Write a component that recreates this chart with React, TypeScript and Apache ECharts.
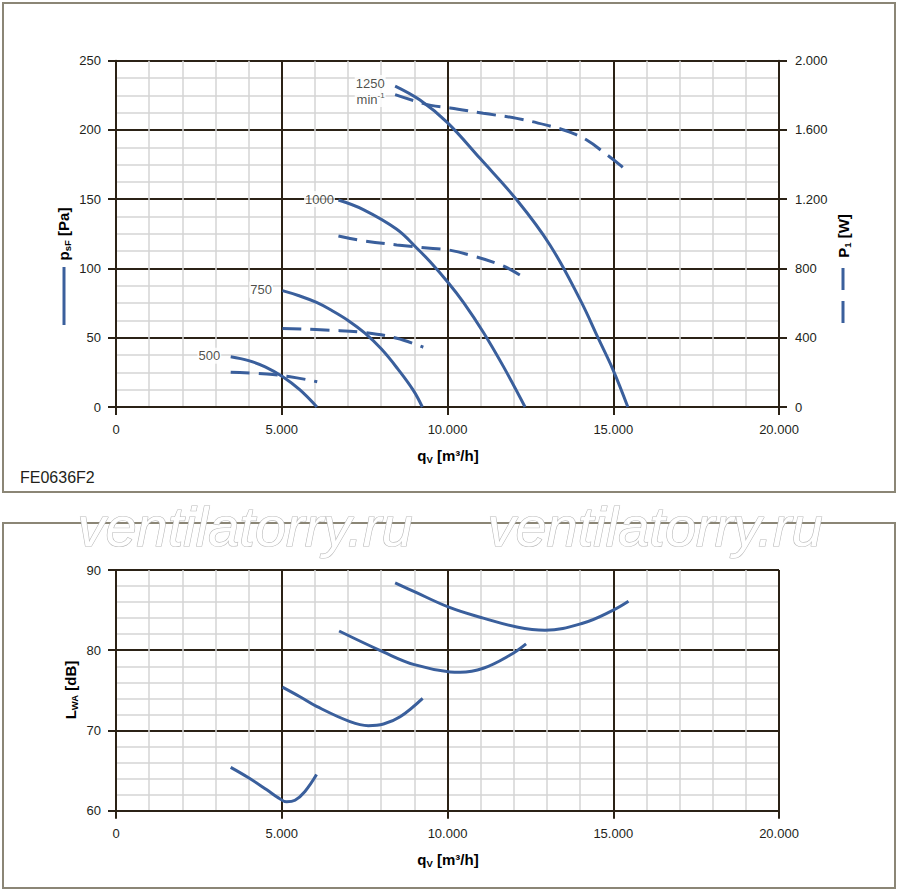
import React, { useEffect, useRef } from "react";
import * as echarts from "echarts";

// fan curves: [qV m3/h, value]
const speeds = ["1250", "1000", "750", "500"];

const pressure1250 = [[8420, 231.7], [9170, 221.6], [9990, 205.5], [10980, 179.5], [12090, 149.5], [13090, 117], [14000, 77.5], [14550, 49.5], [15000, 26.5], [15440, 0]];
const pressure1000 = [[6710, 149.4], [7460, 142.5], [8470, 128.3], [9070, 114.8], [9470, 105], [10030, 89.5], [10480, 75.5], [11080, 54], [11680, 29.5], [12340, 0]];
const pressure750 = [[5020, 84], [5500, 80.5], [6050, 75.5], [6500, 69.8], [7000, 62.5], [7500, 53.5], [8000, 42], [8500, 27.5], [8970, 12], [9240, 0]];
const pressure500 = [[3460, 36.3], [4000, 33.5], [4500, 29], [5020, 22], [5550, 12.3], [6060, 0]];

const power1250 = [[8420, 1804], [9000, 1768], [9500, 1742], [10080, 1727], [11080, 1696], [12090, 1667], [13090, 1623], [13600, 1594], [14200, 1542], [14750, 1465], [15200, 1398], [15460, 1353]];
const power1000 = [[6710, 988], [7460, 960], [8470, 936], [9470, 917], [10030, 907], [10780, 872], [11480, 830], [11890, 795], [12390, 737]];
const power750 = [[5020, 454], [6500, 443], [7500, 430], [8470, 397], [9270, 345]];
const power500 = [[3460, 200], [4550, 190], [5250, 175], [6070, 146]];

const sound1250 = [[8420, 88.4], [9000, 87.3], [10080, 85.3], [11080, 84.0], [12090, 82.9], [12940, 82.5], [14100, 83.4], [15000, 85.0], [15460, 86.1]];
const sound1000 = [[6730, 82.4], [8060, 79.8], [9000, 78.2], [10080, 77.3], [10380, 77.25], [11080, 77.75], [11890, 79.4], [12370, 80.8]];
const sound750 = [[5020, 75.4], [5550, 74.2], [6050, 73.0], [7060, 71.1], [7610, 70.6], [8070, 70.8], [8570, 71.7], [9250, 74.0]];
const sound500 = [[3460, 65.4], [4000, 64.1], [4550, 62.6], [4900, 61.6], [5150, 61.1], [5400, 61.3], [5700, 62.4], [6050, 64.5]];

const pressureCurves = [pressure1250, pressure1000, pressure750, pressure500];
const powerCurves = [power1250, power1000, power750, power500];
const soundCurves = [sound1250, sound1000, sound750, sound500];

const BLUE = "#3a5f9c";
const DARK = "#2b2216";
const MINOR = "#d5d5d5";
const TXT = "#231f1a";
const FONT = "'Liberation Sans', Arial, sans-serif";

const dotted = (v: number) => String(v).replace(/\B(?=(\d{3})+(?!\d))/g, ".");

const xAxisFor = (gridIndex: number) => ({
  type: "value",
  gridIndex,
  min: 0,
  max: 20000,
  interval: 5000,
  axisLine: { show: true, onZero: false, lineStyle: { color: DARK, width: 2 } },
  axisTick: { show: true, length: 8, lineStyle: { color: DARK, width: 2 } },
  axisLabel: { margin: 16, color: TXT, fontSize: 13, fontFamily: FONT, formatter: dotted },
  splitLine: { show: true, lineStyle: { color: DARK, width: 2 } },
  minorTick: { show: false, splitNumber: 5 },
  minorSplitLine: { show: true, lineStyle: { color: MINOR, width: 1.5 } },
});

const line = (data: number[][], xi: number, yi: number, dashed: boolean) => ({
  type: "line",
  xAxisIndex: xi,
  yAxisIndex: yi,
  data,
  smooth: 0.4,
  showSymbol: false,
  symbol: "none",
  silent: true,
  lineStyle: { color: BLUE, width: 3, type: dashed ? [19, 9] : "solid", cap: "butt" },
  z: 5,
});

const App = () => {
  const chartRef = useRef<HTMLDivElement>(null);

  useEffect(() => {
    if (!chartRef.current) return;
    const chart = echarts.init(chartRef.current, null, { renderer: "svg" });

    const labelRich = {
      a: { fontSize: 13, lineHeight: 16, color: TXT, fontFamily: FONT },
      s: { fontSize: 8, lineHeight: 16, verticalAlign: "top", color: TXT, fontFamily: FONT },
    };

    const speedLabelData = speeds.map((s, i) => ({
      value: pressureCurves[i][0],
      label: {
        show: true,
        position: "left",
        distance: i === 1 ? 3 : 9,
        offset: i === 0 ? [0, 5] : [0, -1],
        align: "right",
        backgroundColor: "#fff",
        padding: [0, 1],
        formatter: i === 0 ? `{a|${s}}\n{a|min}{s|-1}` : `{a|${s}}`,
        rich: labelRich,
      },
    }));

    const series: any[] = [];
    pressureCurves.forEach((d) => series.push(line(d, 0, 0, false)));
    powerCurves.forEach((d) => series.push(line(d, 0, 1, true)));
    soundCurves.forEach((d) => series.push(line(d, 1, 2, false)));
    series.push({
      type: "scatter",
      xAxisIndex: 0,
      yAxisIndex: 0,
      symbolSize: 1,
      itemStyle: { color: "rgba(0,0,0,0)" },
      silent: true,
      data: speedLabelData,
      z: 6,
    });

    const titleRich = {
      m: { fontSize: 15, fontWeight: "bold", lineHeight: 18, color: TXT, fontFamily: FONT, verticalAlign: "middle" },
      s: { fontSize: 9.5, fontWeight: "bold", lineHeight: 18, color: TXT, fontFamily: FONT, verticalAlign: "bottom" },
    };
    const title = (text: string, x: number, y: number, rotation = 0) => ({
      type: "text",
      x,
      y,
      rotation,
      z: 10,
      style: { text, rich: titleRich, align: "center", verticalAlign: "middle", textAlign: "center", textVerticalAlign: "middle" },
    });

    const watermark = (x: number) => ({
      type: "text",
      x,
      y: 526,
      z: 20,
      style: {
        text: "ventilatorry.ru",
        fontSize: 56,
        fontStyle: "italic",
        fontFamily: FONT,
        fill: "#fff",
        stroke: "#b9b9b9",
        lineWidth: 1.2,
        align: "center",
        verticalAlign: "middle",
        textAlign: "center",
        textVerticalAlign: "middle",
      },
    });

    chart.setOption({
      animation: false,
      backgroundColor: "#fff",
      grid: [
        { left: 116, right: 121, top: 60.7, bottom: 485 },
        { left: 116, right: 121, top: 570, bottom: 81.3 },
      ],
      xAxis: [xAxisFor(0), xAxisFor(1)],
      yAxis: [
        {
          type: "value",
          gridIndex: 0,
          min: 0,
          max: 250,
          interval: 50,
          axisLine: { show: true, lineStyle: { color: DARK, width: 2 } },
          axisTick: { show: true, length: 8, lineStyle: { color: DARK, width: 2 } },
          axisLabel: { margin: 15, color: TXT, fontSize: 13, fontFamily: FONT },
          splitLine: { show: true, lineStyle: { color: DARK, width: 2 } },
          minorTick: { show: false, splitNumber: 4 },
          minorSplitLine: { show: true, lineStyle: { color: MINOR, width: 1.5 } },
        },
        {
          type: "value",
          gridIndex: 0,
          position: "right",
          min: 0,
          max: 2000,
          interval: 400,
          axisLine: { show: true, lineStyle: { color: DARK, width: 2 } },
          axisTick: { show: true, length: 8, lineStyle: { color: DARK, width: 2 } },
          axisLabel: { margin: 16, color: TXT, fontSize: 13, fontFamily: FONT, formatter: dotted },
          splitLine: { show: false },
        },
        {
          type: "value",
          gridIndex: 1,
          min: 60,
          max: 90,
          interval: 10,
          axisLine: { show: true, lineStyle: { color: DARK, width: 2 } },
          axisTick: { show: true, length: 8, lineStyle: { color: DARK, width: 2 } },
          axisLabel: { margin: 15, color: TXT, fontSize: 13, fontFamily: FONT },
          splitLine: { show: true, lineStyle: { color: DARK, width: 2 } },
          minorTick: { show: false, splitNumber: 5 },
          minorSplitLine: { show: true, lineStyle: { color: MINOR, width: 1.5 } },
        },
      ],
      series,
      graphic: [
        { type: "rect", z: 0, shape: { x: 3, y: 3, width: 892, height: 489 }, style: { fill: "none", stroke: "#8b8676", lineWidth: 2 } },
        { type: "rect", z: 0, shape: { x: 3, y: 523, width: 892, height: 365 }, style: { fill: "none", stroke: "#8b8676", lineWidth: 2 } },
        watermark(245),
        watermark(655),
        title("{m|q}{s|V}{m| [m³/h]}", 448, 455),
        title("{m|q}{s|V}{m| [m³/h]}", 448, 859),
        title("{m|p}{s|sF}{m| [Pa]}", 63, 234, Math.PI / 2),
        title("{m|P}{s|1}{m| [W]}", 843, 236, Math.PI / 2),
        title("{m|L}{s|WA}{m| [dB]}", 70, 690, Math.PI / 2),
        { type: "line", z: 10, shape: { x1: 64, y1: 267, x2: 64, y2: 325 }, style: { stroke: BLUE, lineWidth: 3 } },
        { type: "line", z: 10, shape: { x1: 843, y1: 268, x2: 843, y2: 332 }, style: { stroke: BLUE, lineWidth: 3, lineDash: [22, 11] } },
        {
          type: "text",
          x: 20,
          y: 477,
          z: 10,
          style: { text: "FE0636F2", fontSize: 16, fontFamily: FONT, fill: TXT, verticalAlign: "middle", textVerticalAlign: "middle" },
        },
      ],
    });

    return () => {
      chart.dispose();
    };
  }, []);

  return (
    <div
      ref={chartRef}
      style={{ position: "fixed", left: 0, top: 0, width: "900px", height: "892px" }}
    />
  );
};

export default App;
